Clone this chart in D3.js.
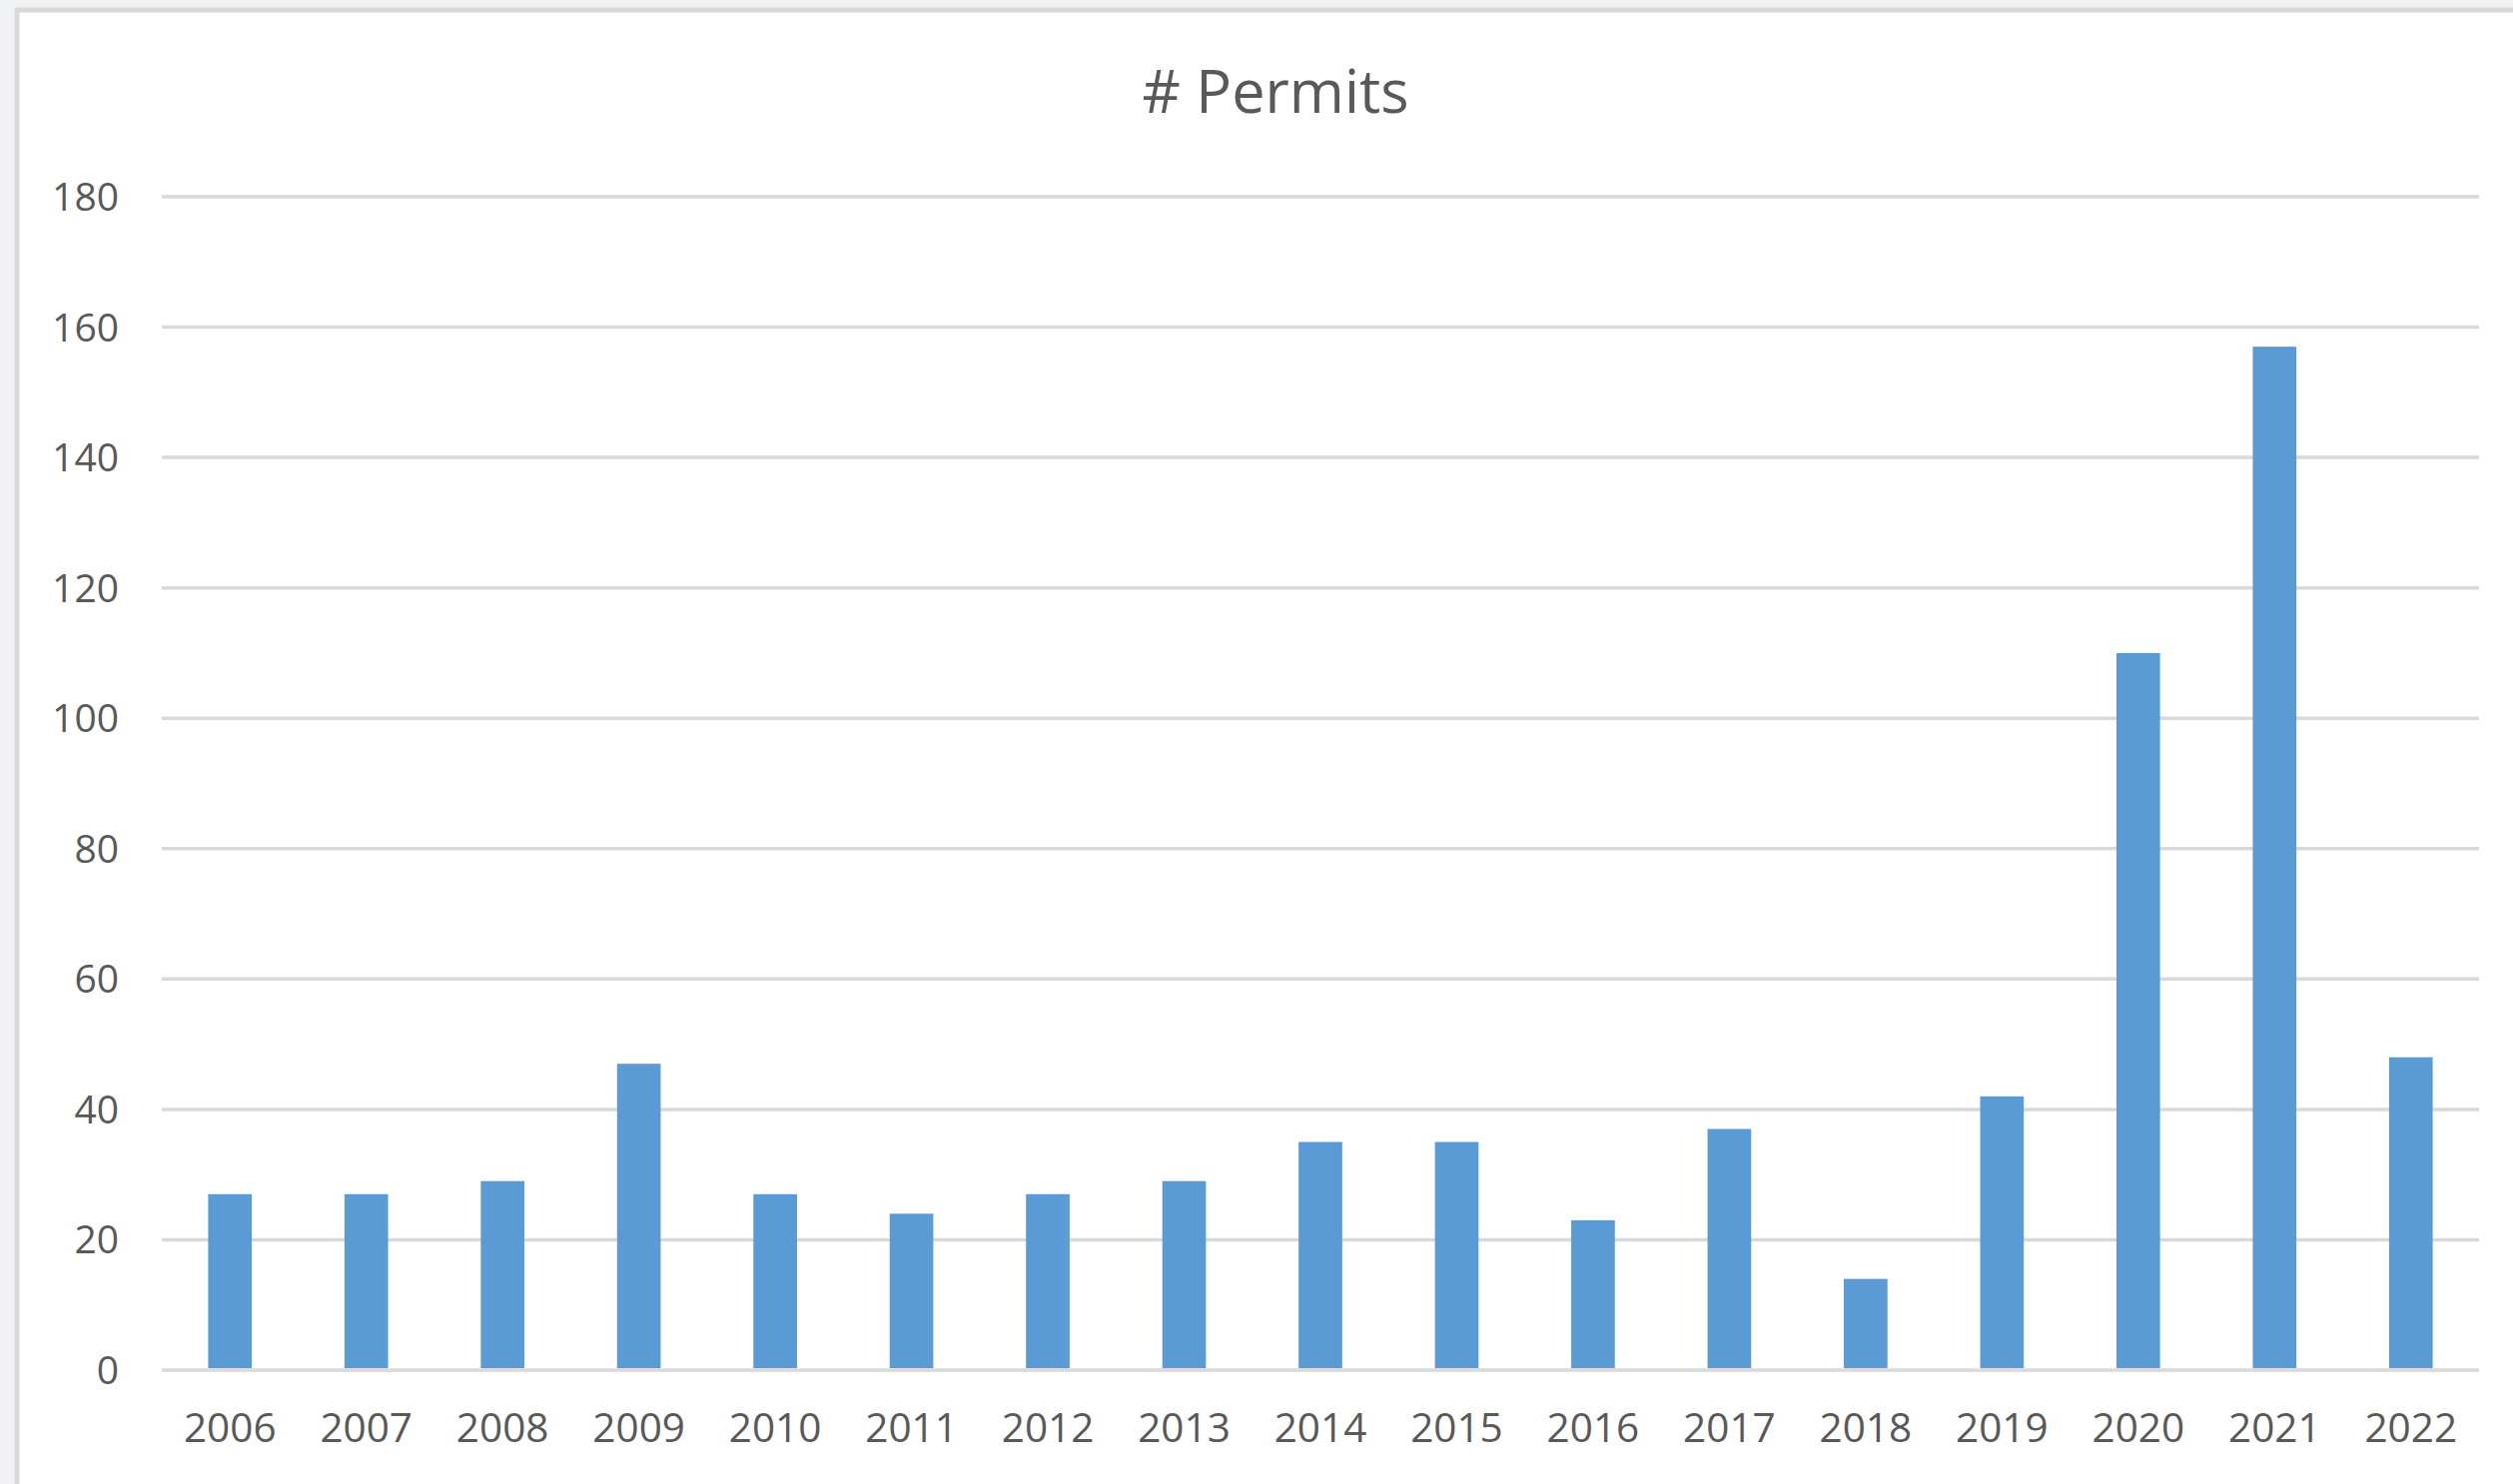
<!DOCTYPE html>
<html>
<head>
<meta charset="utf-8">
<script src="https://cdn.jsdelivr.net/npm/d3@7"></script>
<style>
  body { margin: 0; background: #f1f2f4; }
  text { font-family: "Open Sans", sans-serif; fill: #595959; }
</style>
</head>
<body>
<script>
// data
var years = ["2006","2007","2008","2009","2010","2011","2012","2013","2014","2015","2016","2017","2018","2019","2020","2021","2022"];
var permits = [27, 27, 29, 47, 27, 24, 27, 29, 35, 35, 23, 37, 14, 42, 110, 157, 48];
var yTicks = [0, 20, 40, 60, 80, 100, 120, 140, 160, 180];
var title = "# Permits";

var W = 2516, H = 1486;
var svg = d3.select("body").append("svg")
    .attr("width", W)
    .attr("height", H);

svg.append("rect").attr("width", W).attr("height", H).attr("fill", "#f1f2f4");
// chart panel
svg.append("rect")
    .attr("x", 17).attr("y", 10)
    .attr("width", W + 20).attr("height", H + 20)
    .attr("fill", "#fff")
    .attr("stroke", "#d9d9d9")
    .attr("stroke-width", 5);

var plot = {left: 162, right: 2482, top: 197, bottom: 1372};

var x = d3.scaleBand()
    .domain(years)
    .range([plot.left, plot.right])
    .paddingInner(0.68)
    .paddingOuter(0.34);

var y = d3.scaleLinear()
    .domain([0, 180])
    .range([plot.bottom, plot.top]);

// gridlines
svg.append("g").selectAll("line")
  .data(yTicks)
  .enter().append("line")
    .attr("x1", plot.left)
    .attr("x2", plot.right)
    .attr("y1", function(d) { return y(d); })
    .attr("y2", function(d) { return y(d); })
    .attr("stroke", "#d9d9d9")
    .attr("stroke-width", 3.5);

// y labels
svg.append("g").selectAll("text")
  .data(yTicks)
  .enter().append("text")
    .attr("x", 119)
    .attr("y", function(d) { return y(d); })
    .attr("dy", "0.36em")
    .attr("text-anchor", "end")
    .attr("font-size", "39px")
    .text(function(d) { return d; });

// bars
svg.append("g").selectAll("rect")
  .data(permits)
  .enter().append("rect")
    .attr("x", function(d, i) { return x(years[i]); })
    .attr("width", x.bandwidth())
    .attr("y", function(d) { return y(d); })
    .attr("height", function(d) { return y(0) - y(d) - 2; })
    .attr("fill", "#5b9bd5");

// x labels
svg.append("g").selectAll("text")
  .data(years)
  .enter().append("text")
    .attr("x", function(d) { return x(d) + x.bandwidth() / 2; })
    .attr("y", 1444)
    .attr("text-anchor", "middle")
    .attr("font-size", "40.5px")
    .text(function(d) { return d; });

svg.append("text")
    .attr("x", 1277)
    .attr("y", 113)
    .attr("text-anchor", "middle")
    .attr("font-size", "59.5px")
    .text(title);
</script>
</body>
</html>
